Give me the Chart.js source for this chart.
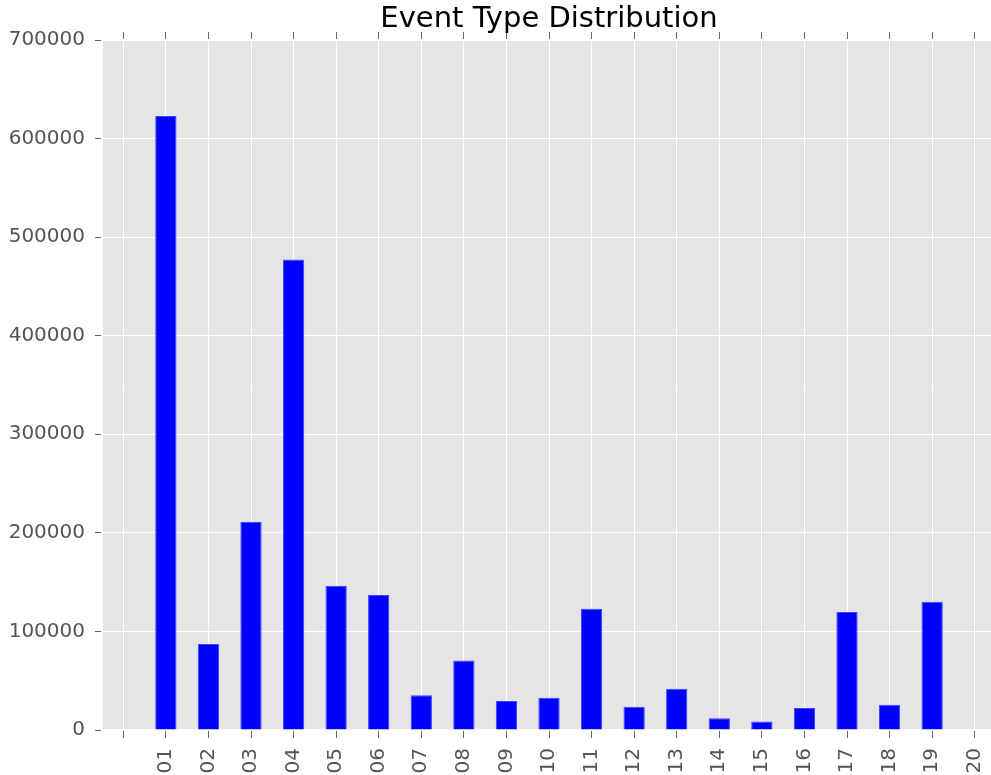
<!DOCTYPE html>
<html>
<head>
<meta charset="utf-8">
<title>Event Type Distribution</title>
<script src="https://cdn.jsdelivr.net/npm/chart.js@4/dist/chart.umd.min.js"></script>
<style>
  html, body { margin: 0; padding: 0; background: #fff; overflow: hidden; }
  #wrap { position: relative; width: 996px; height: 775px; }
</style>
</head>
<body>
<div id="wrap"><canvas id="c"></canvas></div>
<script>
// Categories: the first slot is an empty label, as in the original plot
const cats = ['', '01', '02', '03', '04', '05', '06', '07', '08', '09', '10',
              '11', '12', '13', '14', '15', '16', '17', '18', '19', '20'];

// Event counts
const counts = [null, 622800, 87300, 211000, 477200, 146200, 137000, 35200, 70400, 29400, 32800,
                123100, 23700, 41900, 11900, 8500, 22300, 119800, 25700, 130000, 0];

// Y axis range / ticks
const yMin = 0;
const yMax = 700000;
const yStep = 100000;

const FONT = 'DejaVu Sans';
const TICK_GREY = '#555555';

// gray panel behind the plot, ggplot style
const panelBg = {
  id: 'panelBg',
  beforeDraw(chart) {
    const a = chart.chartArea;
    const ctx = chart.ctx;
    ctx.save();
    ctx.fillStyle = '#e5e5e5';
    ctx.fillRect(a.left, a.top, a.right - a.left, a.bottom - a.top);
    ctx.restore();
  }
};

// scales reserve room for half a label at their ends; the plot here runs edge to edge
function noPad(s) {
  s.paddingLeft = 0;
  s.paddingRight = 0;
  s.paddingTop = 0;
  s.paddingBottom = 0;
}

new Chart(document.getElementById('c'), {
  type: 'bar',
  data: {
    labels: cats,
    datasets: [{
      data: counts,
      backgroundColor: '#0000ff',
      borderColor: '#4040ff',
      borderWidth: 1,
      categoryPercentage: 1.0,
      barPercentage: 0.5,
      xAxisID: 'x',
      yAxisID: 'y'
    }]
  },
  options: {
    responsive: true,
    maintainAspectRatio: false,
    animation: false,
    layout: { padding: 0 },
    plugins: {
      legend: { display: false },
      tooltip: { enabled: false },
      title: {
        display: true,
        text: 'Event Type Distribution',
        fullSize: false,
        color: '#000',
        font: { family: FONT, size: 29, weight: 'normal' },
        padding: { top: 2, bottom: 3.2 }
      }
    },
    scales: {
      x: {
        type: 'category',
        position: 'bottom',
        offset: true,
        grid: { color: '#ffffff', lineWidth: 1, offset: false, tickLength: 8, tickColor: '#666', tickWidth: 1 },
        border: { display: true, color: '#ffffff', width: 2 },
        ticks: {
          color: TICK_GREY, font: { family: FONT, size: 20 },
          minRotation: 90, maxRotation: 90, padding: 10, autoSkip: false
        },
        afterFit(s) { s.height = 45; noPad(s); }
      },
      x2: {
        type: 'category',
        position: 'top',
        labels: cats,
        offset: true,
        grid: { drawOnChartArea: false, offset: false, tickLength: 8, tickColor: '#666', tickWidth: 1 },
        border: { display: true, color: '#ffffff', width: 2 },
        ticks: { display: false },
        afterFit(s) { s.height = 0; noPad(s); }
      },
      y: {
        min: yMin,
        max: yMax,
        grid: { color: '#ffffff', lineWidth: 1, tickLength: 7, tickColor: '#666', tickWidth: 1 },
        border: { display: true, color: '#ffffff', width: 2 },
        ticks: {
          stepSize: yStep,
          color: TICK_GREY, font: { family: FONT, size: 20 },
          padding: 10,
          callback: v => String(v)
        },
        afterFit(s) { s.width = 102; noPad(s); }
      }
    }
  },
  plugins: [panelBg]
});
</script>
</body>
</html>
